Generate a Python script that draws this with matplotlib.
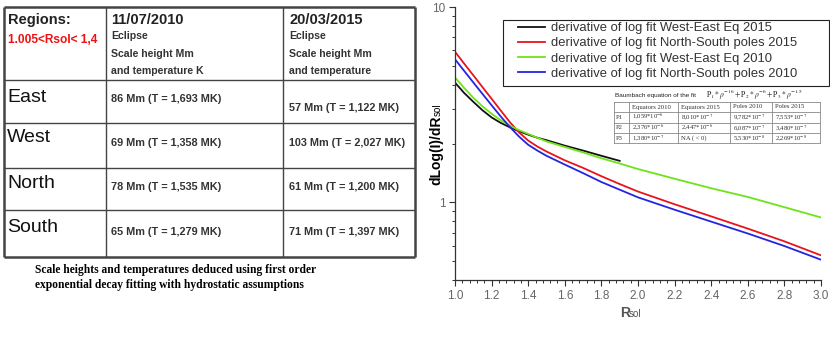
import matplotlib
matplotlib.use('Agg')
import matplotlib.pyplot as plt
from matplotlib.patches import Rectangle
from matplotlib.ticker import AutoMinorLocator, LogLocator, NullFormatter, FixedLocator

plt.rcParams['font.family'] = ['Liberation Sans', 'DejaVu Sans']
plt.rcParams['mathtext.fontset'] = 'stix'

# ---- data ----
r_sol = [1.0, 1.05, 1.1, 1.15, 1.2, 1.25, 1.3, 1.35, 1.4, 1.45, 1.5, 1.6, 1.7, 1.8, 1.9,
         2.0, 2.2, 2.4, 2.6, 2.8, 3.0]
ns_2015 = [5.90, 5.13, 4.47, 3.89, 3.39, 2.95, 2.57, 2.28, 2.07, 1.93, 1.82, 1.64, 1.50, 1.36, 1.24,
           1.135, 0.977, 0.847, 0.733, 0.631, 0.535]
ns_2010 = [5.40, 4.71, 4.11, 3.59, 3.14, 2.75, 2.43, 2.17, 1.97, 1.84, 1.73, 1.56, 1.41, 1.27, 1.16,
           1.06, 0.916, 0.796, 0.692, 0.597, 0.508]
we_2010 = [4.36, 3.85, 3.43, 3.10, 2.84, 2.63, 2.47, 2.34, 2.24, 2.14, 2.05, 1.92, 1.80, 1.68, 1.58,
           1.48, 1.32, 1.18, 1.065, 0.944, 0.836]
r_sol_we15 = [1.0, 1.05, 1.1, 1.15, 1.2, 1.25, 1.3, 1.35, 1.4, 1.45, 1.5, 1.6, 1.7, 1.8, 1.9]
we_2015 = [4.10, 3.63, 3.27, 2.96, 2.72, 2.55, 2.42, 2.31, 2.22, 2.14, 2.08, 1.95, 1.84, 1.73, 1.63]

series_labels = ['derivative of log fit West-East Eq 2015',
                 'derivative of log fit North-South poles 2015',
                 'derivative of log fit West-East Eq 2010',
                 'derivative of log fit North-South poles 2010']
series_colors = ['#111111', '#e8141c', '#6fe31a', '#2424e0']

x_ticks = [1.0, 1.2, 1.4, 1.6, 1.8, 2.0, 2.2, 2.4, 2.6, 2.8, 3.0]
y_ticks = [1, 10]

regions = ['East', 'West', 'North', 'South']
scale_2010 = ['86 Mm (T = 1,693 MK)', '69 Mm (T = 1,358 MK)',
              '78 Mm (T = 1,535 MK)', '65 Mm (T = 1,279 MK)']
scale_2015 = ['57 Mm (T = 1,122 MK)', '103 Mm (T = 2,027 MK)',
              '61 Mm (T = 1,200 MK)', '71 Mm (T = 1,397 MK)']

fit_cols = ['', 'Equators 2010', 'Equators 2015', 'Poles 2010', 'Poles 2015']
fit_rows = ['P1', 'P2', 'P3']
fit_vals = [
    [r'1,059*10$^{-6}$', r'8,010*10$^{-7}$', r'9,782*10$^{-7}$', r'7,553*10$^{-7}$'],
    [r'2,376*10$^{-6}$', r'2,447*10$^{-6}$', r'6,087*10$^{-7}$', r'3,480*10$^{-7}$'],
    [r'1,380*10$^{-7}$', 'NA ( < 0)', r'5,530*10$^{-8}$', r'2,269*10$^{-8}$'],
]

W, H = 830, 339
fig = plt.figure(figsize=(W / 100, H / 100), dpi=100)

# ---- right: plot ----
ax = fig.add_axes([455 / W, 1 - 280 / H, (821 - 455) / W, (280 - 7) / H])
ax.plot(r_sol_we15, we_2015, color=series_colors[0], lw=1.3, label=series_labels[0])
ax.plot(r_sol, ns_2015, color=series_colors[1], lw=1.3, label=series_labels[1])
ax.plot(r_sol, we_2010, color=series_colors[2], lw=1.3, label=series_labels[2])
ax.plot(r_sol, ns_2010, color=series_colors[3], lw=1.3, label=series_labels[3])
ax.set_yscale('log')
ax.set_xlim(1.0, 3.0)
ax.set_ylim(0.4, 10)
ax.set_xticks(x_ticks)
ax.set_xticklabels(['%.1f' % t for t in x_ticks])
ax.xaxis.set_minor_locator(AutoMinorLocator(5))
ax.yaxis.set_major_locator(FixedLocator(y_ticks))
ax.set_yticklabels([str(t) for t in y_ticks])
ax.yaxis.set_minor_locator(LogLocator(base=10, subs=range(2, 10)))
ax.yaxis.set_minor_formatter(NullFormatter())
for s in ['top', 'right']:
    ax.spines[s].set_visible(False)
for s in ['left', 'bottom']:
    ax.spines[s].set_color('#333333')
    ax.spines[s].set_linewidth(0.9)
ax.tick_params(which='major', direction='out', length=4, width=0.8, color='#333333',
               labelsize=8.5, labelcolor='#666666', pad=3)
ax.tick_params(which='minor', direction='out', length=2.5, width=0.7, color='#333333')

leg = ax.legend(loc='upper left', bbox_to_anchor=(518 / W, 1 - 22 / H),
                bbox_transform=fig.transFigure, fontsize=9.4, frameon=False,
                handlelength=2.1, handletextpad=0.4, labelspacing=0.24,
                borderpad=0, borderaxespad=0)
for t in leg.get_texts():
    t.set_color('#333333')

# ---- overlay in pixel coordinates for tables and labels ----
ov = fig.add_axes([0, 0, 1, 1], zorder=5)
ov.set_xlim(0, W)
ov.set_ylim(H, 0)
ov.axis('off')
ov.patch.set_alpha(0)

# legend frame
ov.add_patch(Rectangle((503, 20), 326, 66, fill=False, edgecolor='#222222', lw=0.8))

# axis labels
ov.text(620, 317, 'R', fontsize=10, fontweight='bold', color='#555555', ha='left', va='baseline')
ov.text(629, 317, 'sol', fontsize=7, color='#555555', ha='left', va='baseline')
ov.text(443, 185, 'dLog(I)/dR', fontsize=10, fontweight='bold', rotation=90,
        ha='left', va='bottom', rotation_mode='anchor')
ov.text(443, 116, 'sol', fontsize=7, rotation=90, ha='left', va='bottom',
        rotation_mode='anchor')

# left table
row_lines = [7, 80, 123, 168, 210, 257]
col_lines = [4, 106, 283, 415]
for y in row_lines:
    lw = 1.8 if y in (row_lines[0], row_lines[-1]) else 1.0
    ov.plot([col_lines[0], col_lines[-1]], [y, y], color='#444444', lw=lw, solid_capstyle='butt')
for x in col_lines:
    lw = 1.8 if x in (col_lines[0], col_lines[-1]) else 1.0
    ov.plot([x, x], [row_lines[0], row_lines[-1]], color='#444444', lw=lw, solid_capstyle='butt')

ov.text(8, 20, 'Regions:', fontsize=10.5, fontweight='bold', va='center', color='#222222')
ov.text(8, 40, '1.005<Rsol< 1,4', fontsize=8.6, fontweight='bold', va='center', color='#ee1111')
for x, date, last in [(111, '11/07/2010', 'and temperature K'), (289, '20/03/2015', 'and temperature')]:
    ov.text(x, 20, date, fontsize=10.5, fontweight='bold', va='center', color='#222222')
    ov.text(x, 36, 'Eclipse', fontsize=7.6, fontweight='bold', va='center', color='#333333')
    ov.text(x, 54, 'Scale height Mm', fontsize=7.6, fontweight='bold', va='center', color='#333333')
    ov.text(x, 71, last, fontsize=7.6, fontweight='bold', va='center', color='#333333')

name_y = [97, 138, 183, 228]
y2010 = [99, 143, 187, 232]
y2015 = [108, 143, 187, 232]
for i in range(len(regions)):
    ov.text(7, name_y[i], regions[i], fontsize=14, va='center', color='#111111')
    ov.text(111, y2010[i], scale_2010[i], fontsize=7.8, fontweight='bold', va='center', color='#333333')
    ov.text(289, y2015[i], scale_2015[i], fontsize=7.8, fontweight='bold', va='center', color='#333333')

ov.text(35, 270, 'Scale heights and temperatures deduced using first order',
        family='Liberation Serif', fontsize=8.3, fontweight='bold', va='center')
ov.text(35, 285, 'exponential decay fitting with hydrostatic assumptions',
        family='Liberation Serif', fontsize=8.3, fontweight='bold', va='center')

# fit coefficients table
ov.text(615, 96, 'Baumbach equation of the fit  ', fontsize=4.6, va='center', color='#222222')
ov.text(706, 95, r'$\mathrm{P}_1*\rho^{-16}+\mathrm{P}_2*\rho^{-6}+\mathrm{P}_3*\rho^{-1.5}$',
        fontsize=5.5, va='center', color='#222222')
fx = [614, 629, 678, 730, 772, 820]
fy = [102, 112, 122.5, 133, 143]
for y in fy:
    ov.plot([fx[0], fx[-1]], [y, y], color='#888888', lw=0.6)
for x in fx:
    ov.plot([x, x], [fy[0], fy[-1]], color='#888888', lw=0.6)
for j, c in enumerate(fit_cols):
    ov.text(fx[j] + 2.5, (fy[0] + fy[1]) / 2, c, family='Liberation Serif', fontsize=4.8,
            va='center', color='#333333')
for i, name in enumerate(fit_rows):
    yc = (fy[i + 1] + fy[i + 2]) / 2
    ov.text(fx[0] + 2, yc, name, family='Liberation Serif', fontsize=4.8, va='center', color='#333333')
    for j, v in enumerate(fit_vals[i]):
        ov.text(fx[j + 1] + 2.5, yc, v, family='Liberation Serif', fontsize=4.8,
                va='center', color='#333333')

fig.savefig('out.png', dpi=100)
